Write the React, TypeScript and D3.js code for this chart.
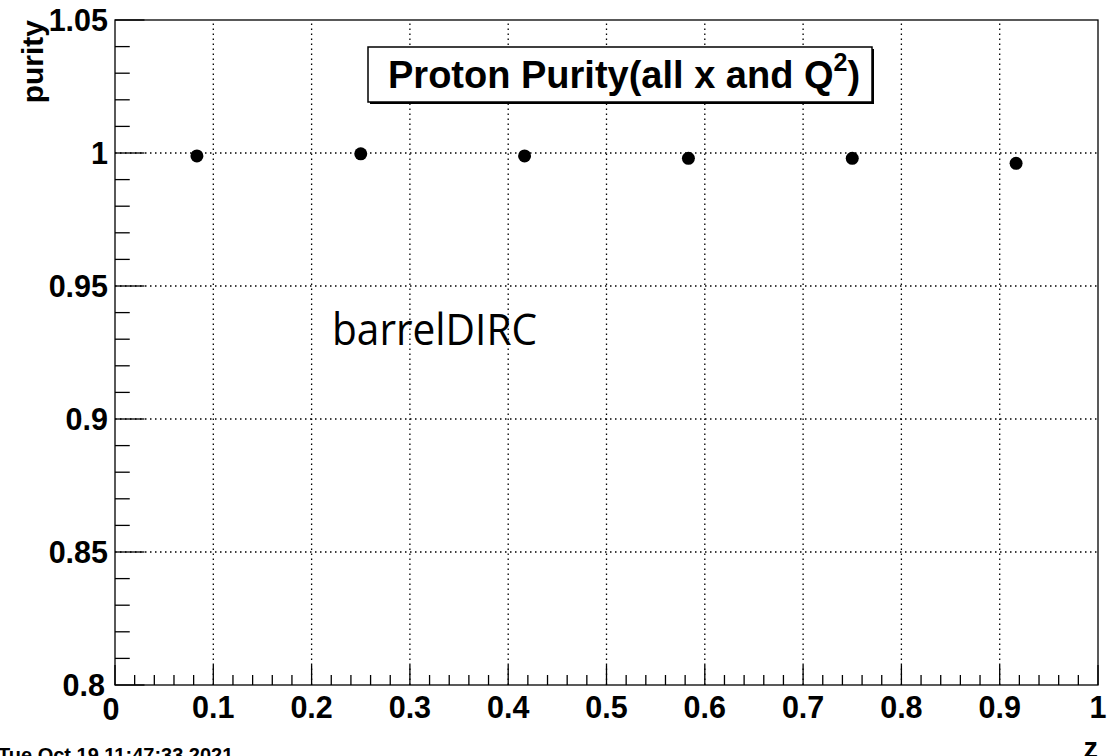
import React from "react";
import * as d3 from "d3";

const zValues = [1 / 12, 3 / 12, 5 / 12, 7 / 12, 9 / 12, 11 / 12];
const purityValues = [0.9989, 0.9997, 0.9989, 0.998, 0.998, 0.9961];
const xTickLabels = ["0", "0.1", "0.2", "0.3", "0.4", "0.5", "0.6", "0.7", "0.8", "0.9", "1"];
const yTickLabels = ["0.8", "0.85", "0.9", "0.95", "1", "1.05"];
const titleText = "Proton Purity(all x and Q";
const annotation = "barrelDIRC";
const dateText = "Tue Oct 19 11:47:33 2021";

const W = 1117;
const H = 756;
const L = 115, R = 1098, T = 20, B = 685;
const FONT = "'Liberation Sans', Arial, Helvetica, sans-serif";

export default function App() {
  const x = d3.scaleLinear().domain([0, 1]).range([L, R]);
  const y = d3.scaleLinear().domain([0.8, 1.05]).range([B, T]);

  const xMajor = xTickLabels.map((s) => +s);
  const yMajor = yTickLabels.map((s) => +s);
  const xMinor = d3.range(0, 51).map((i) => i * 0.02).filter((v) => Math.abs(v * 10 - Math.round(v * 10)) > 1e-6);
  const yMinor = d3.range(0, 26).map((i) => 0.8 + i * 0.01).filter((v) => Math.abs(v * 20 - Math.round(v * 20)) > 1e-6);

  const majX = 0.03 * (B - T);
  const majY = 0.03 * (R - L);

  return (
    <svg width={W} height={H} style={{ position: "absolute", left: 0, top: 0, background: "#fff" }}>
      <rect x={0} y={0} width={W} height={H} fill="#fff" />
      {/* grid */}
      <g stroke="#000" strokeWidth={1.3} strokeDasharray="1.5,3.5">
        {xMajor.filter((v) => v > 0 && v < 1).map((v) => (
          <line key={"gx" + v} x1={x(v)} x2={x(v)} y1={B} y2={T} />
        ))}
        {yMajor.filter((v) => v > 0.8 && v < 1.05).map((v) => (
          <line key={"gy" + v} x1={L} x2={R} y1={y(v)} y2={y(v)} />
        ))}
      </g>
      {/* title box */}
      <rect x={370} y={49} width={504} height={55} fill="#000" />
      <rect x={368} y={47} width={504} height={55} fill="#fff" stroke="#000" strokeWidth={1.5} />
      <text x={388} y={88} fontFamily={FONT} fontWeight="bold" fontSize={38} fill="#000">
        {titleText}
        <tspan fontSize={25} dy={-17}>2</tspan>
        <tspan dy={17}>)</tspan>
      </text>
      {/* frame */}
      <rect x={L} y={T} width={R - L} height={B - T} fill="none" stroke="#000" strokeWidth={1.3} />
      {/* ticks */}
      <g stroke="#000" strokeWidth={1.3}>
        {xMajor.map((v) => (
          <line key={"tx" + v} x1={x(v)} x2={x(v)} y1={B} y2={B - majX} />
        ))}
        {xMinor.map((v) => (
          <line key={"mx" + v} x1={x(v)} x2={x(v)} y1={B} y2={B - majX / 2} />
        ))}
        {yMajor.map((v) => (
          <line key={"ty" + v} x1={L} x2={L + majY} y1={y(v)} y2={y(v)} />
        ))}
        {yMinor.map((v) => (
          <line key={"my" + v} x1={L} x2={L + majY / 2} y1={y(v)} y2={y(v)} />
        ))}
      </g>
      {/* tick labels */}
      <g fontFamily={FONT} fontWeight="bold" fontSize={30.5} fill="#000">
        {xTickLabels.map((s, i) => (
          <text key={"lx" + s} x={x(xMajor[i]) - (i === 0 ? 4 : 0)} y={i === 0 ? 720 : 718} textAnchor="middle">{s}</text>
        ))}
        {yTickLabels.map((s, i) => (
          <text key={"ly" + s} x={i === 0 ? 105 : 108} y={y(yMajor[i]) + 10.5} textAnchor="end">{s}</text>
        ))}
      </g>
      {/* axis titles */}
      <text transform={`translate(43,20) rotate(-90)`} textAnchor="end" fontFamily={FONT} fontWeight="bold" fontSize={30} fill="#000">purity</text>
      <text x={1098} y={758} textAnchor="end" fontFamily={FONT} fontWeight="bold" fontSize={29} fill="#000">z</text>
      {/* points */}
      <g fill="#000">
        {zValues.map((v, i) => (
          <circle key={"p" + i} cx={x(v)} cy={y(purityValues[i])} r={6.5} />
        ))}
      </g>
      {/* annotation */}
      <text x={332} y={345} fontFamily="'Open Sans', 'Noto Sans', sans-serif" fontSize={44} textLength={205} lengthAdjust="spacingAndGlyphs" fill="#000">{annotation}</text>
      {/* date */}
      <text x={-2} y={762} fontFamily={FONT} fontWeight="bold" fontSize={20} fill="#000">{dateText}</text>
    </svg>
  );
}
